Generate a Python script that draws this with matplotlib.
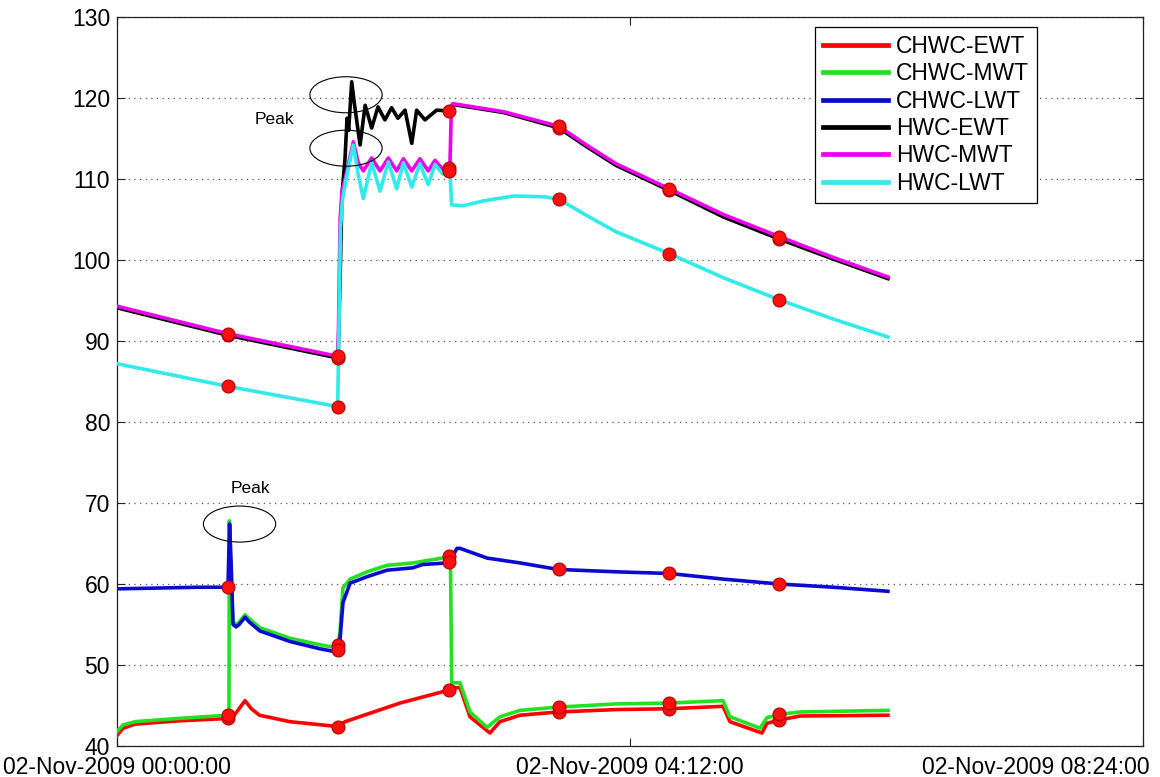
import numpy as np
import matplotlib
matplotlib.use("Agg")
import matplotlib.pyplot as plt
import matplotlib.transforms as mtransforms
from matplotlib.patches import Ellipse

plt.rcParams['font.family'] = ['Liberation Sans', 'DejaVu Sans']

# ---------------- data (time in minutes after 02-Nov-2009 00:00:00) ----------------
chwc_ewt_t = [0, 3, 8.8, 30, 54.5, 57, 62.9, 66, 70, 85, 108.6, 112, 139, 163, 165, 168.5,
              173.4, 183.2, 188.1, 198, 216.6, 245.6, 271.2, 297.7, 301.1, 316.8, 319.3,
              325.2, 335.5, 378.7]
chwc_ewt_v = [41.3, 42.2, 42.7, 43.1, 43.4, 43.6, 45.6, 44.6, 43.8, 43.0, 42.4, 43.0, 45.3,
              46.9, 47.2, 47.2, 43.6, 41.6, 43.0, 43.8, 44.2, 44.5, 44.6, 44.9, 43.0, 41.6,
              42.8, 43.2, 43.7, 43.8]

chwc_mwt_t = [0, 3, 8.8, 30, 54.5, 55.0, 55.2, 55.8, 57.0, 58.5, 60.0, 62.9, 65, 70.2, 85,
              99.7, 108.1, 109.5, 111, 114.5, 122.8, 132.6, 145.4, 162.1, 163.8, 164.4,
              168.5, 173.4, 181.8, 188.1, 198, 216.6, 245.6, 271.2, 297.7, 301.1, 315.9,
              319.3, 325.2, 335.5, 378.7]
chwc_mwt_v = [41.8, 42.6, 43.0, 43.4, 43.8, 44.0, 67.8, 62.0, 55.3, 55.0, 55.3, 56.2, 55.7,
              54.6, 53.3, 52.5, 52.1, 54.0, 59.5, 60.6, 61.5, 62.3, 62.6, 63.3, 63.5, 47.8,
              47.8, 44.2, 42.3, 43.6, 44.4, 44.8, 45.2, 45.3, 45.6, 43.6, 42.2, 43.5, 43.9,
              44.2, 44.4]

chwc_lwt_t = [0, 20, 40, 54.5, 55.3, 56.0, 57.0, 58.5, 60.0, 62.9, 65, 70.2, 85, 99.7, 108.1,
              109.5, 111, 114.5, 122.8, 132.6, 145.4, 150, 162.1, 163.5, 167, 168.5, 181.8,
              198, 216.6, 245.6, 271.2, 298, 325.2, 352, 378.7]
chwc_lwt_v = [59.4, 59.5, 59.6, 59.6, 67.4, 63.0, 55.0, 54.7, 55.0, 55.9, 55.3, 54.2, 52.9,
              52.0, 51.6, 53.0, 57.7, 60.1, 60.9, 61.7, 62.0, 62.4, 62.6, 62.8, 64.4, 64.4,
              63.2, 62.6, 61.8, 61.5, 61.3, 60.6, 60.0, 59.6, 59.1]

hwc_ewt_t = [0, 54.5, 108.6, 109.8, 110.5, 112.0, 113.0, 113.8, 115.3, 116.5, 119.4, 121.9,
             125.1, 128.2, 131.6, 134.9, 138.0, 141.5, 144.8, 147.2, 151.3, 157.0, 163.5,
             164.3, 165.0, 190, 217.1, 230, 245, 271.2, 298, 325.2, 352, 378.7]
hwc_ewt_v = [94.1, 90.7, 87.9, 100.0, 108.0, 112.5, 117.5, 116.0, 122.0, 119.5, 114.2, 119.1,
             116.3, 118.9, 117.3, 118.8, 117.5, 118.5, 114.4, 118.5, 117.3, 118.5, 118.4,
             119.0, 119.2, 118.2, 116.3, 114.1, 111.7, 108.6, 105.3, 102.6, 100.1, 97.7]

hwc_mwt_t = [0, 54.5, 108.6, 109.6, 110.5, 112.5, 116.1, 118.5, 121.0, 125.1, 129.2, 133.3,
             137.4, 140.7, 144.8, 148.8, 152.9, 156.2, 160, 163.5, 164.3, 165.0, 190, 217.1,
             230, 245, 271.2, 298, 325.2, 352, 378.7]
hwc_mwt_v = [94.3, 90.9, 88.1, 105.0, 108.5, 110.5, 114.6, 112.0, 111.0, 112.6, 111.0, 112.6,
             111.0, 112.5, 111.0, 112.5, 111.0, 112.3, 111.2, 111.4, 119.0, 119.3, 118.3,
             116.5, 114.3, 111.9, 108.8, 105.6, 102.9, 100.3, 97.9]

hwc_lwt_t = [0, 54.5, 108.4, 109.8, 110.8, 112.5, 116.1, 118.5, 121.0, 125.1, 129.2, 133.3,
             137.4, 140.7, 144.8, 148.8, 152.9, 156.2, 160, 163.5, 164.4, 170, 180, 195, 210,
             217.1, 230, 245, 271.2, 298, 325.2, 352, 378.7]
hwc_lwt_v = [87.2, 84.4, 81.9, 104.0, 107.5, 110.0, 114.2, 110.5, 107.6, 112.0, 108.5, 112.1,
             108.8, 112.0, 109.0, 111.9, 109.3, 111.8, 110.6, 111.0, 106.8, 106.7, 107.3,
             107.9, 107.8, 107.5, 105.6, 103.5, 100.8, 97.8, 95.1, 92.7, 90.5]

series_names = ['CHWC-EWT', 'CHWC-MWT', 'CHWC-LWT', 'HWC-EWT', 'HWC-MWT', 'HWC-LWT']
series_t = [chwc_ewt_t, chwc_mwt_t, chwc_lwt_t, hwc_ewt_t, hwc_mwt_t, hwc_lwt_t]
series_v = [chwc_ewt_v, chwc_mwt_v, chwc_lwt_v, hwc_ewt_v, hwc_mwt_v, hwc_lwt_v]
series_colors = ['#ff0000', '#22e022', '#0a0ad0', '#000000', '#ee00ee', '#33eaea']

marker_times = [54.3, 108.4, 163.2, 217.1, 271.2, 325.2]

x_ticks = [0, 252, 504]
x_ticklabels = ['02-Nov-2009 00:00:00', '02-Nov-2009 04:12:00', '02-Nov-2009 08:24:00']
y_ticks = [40, 50, 60, 70, 80, 90, 100, 110, 120, 130]

# ---------------- figure ----------------
W, H = 1160, 777
fig = plt.figure(figsize=(W / 100, H / 100), dpi=100)
ax = fig.add_axes([117 / W, 1 - 746 / H, (1143 - 117) / W, (746 - 17) / H])

for t, v, c, name in zip(series_t, series_v, series_colors, series_names):
    ax.plot(t, v, color=c, lw=2.6, label=name, solid_joinstyle='round', zorder=3)

for t, v in zip(series_t, series_v):
    mv = np.interp(marker_times, t, v)
    ax.plot(marker_times, mv, ls='none', marker='o', ms=9.3, mfc='#ff1010',
            mec='#b00000', mew=0.8, zorder=4)

# Peak annotations
ell_w, ell_h = 35.5, 4.45
for (cx, cy) in [(112.5, 120.4), (112.5, 113.8), (60.2, 67.4)]:
    ax.add_patch(Ellipse((cx, cy), ell_w, ell_h, fill=False, ec='black', lw=0.8, zorder=5))
ax.text(77.5, 117.4, 'Peak', fontsize=12.5, ha='center', va='center')
ax.text(65.4, 71.8, 'Peak', fontsize=12.5, ha='center', va='center')

ax.set_xlim(0, 504)
ax.set_ylim(40, 130)
ax.set_xticks(x_ticks)
ax.set_xticklabels(x_ticklabels)
ax.set_yticks(y_ticks)
ax.tick_params(direction='in', length=6, width=0.8, labelsize=16.5, top=True, right=True,
               colors='#222222', labelcolor='black')
ax.tick_params(axis='y', pad=5)
ax.tick_params(axis='x', pad=7)
ax.yaxis.grid(True, ls=(0, (1, 3.5)), color='#555555', lw=0.9)
ax.xaxis.grid(False)
for s in ax.spines.values():
    s.set_linewidth(0.9)
    s.set_color('#222222')

# last x tick label is shifted left to stay inside the figure (as in the original)
last = ax.get_xticklabels()[-1]
last.set_horizontalalignment('right')
last.set_transform(last.get_transform() + mtransforms.ScaledTranslation(7 / 100, 0, fig.dpi_scale_trans))

leg = ax.legend(loc='upper right', bbox_to_anchor=((1037 - 117) / 1026, 1 - 10 / 729),
                borderaxespad=0, fontsize=16.5, handlelength=2.85, handletextpad=0.35,
                labelspacing=0.19, borderpad=0.35, fancybox=False, framealpha=1,
                edgecolor='black')
leg.get_frame().set_linewidth(0.9)
for h in leg.get_lines():
    h.set_linewidth(3.4)

fig.savefig('out.png', dpi=100)
